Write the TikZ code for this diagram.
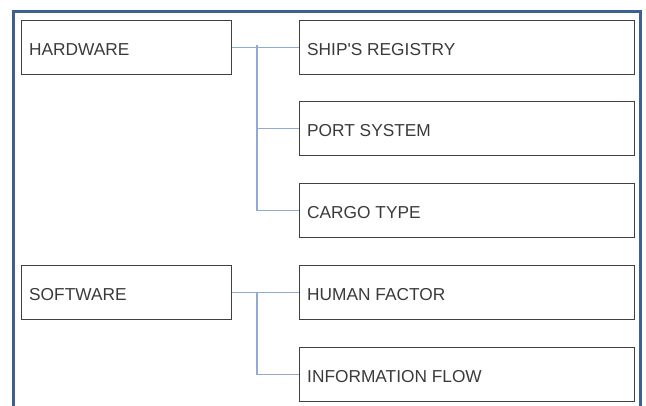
\documentclass[tikz,border=0pt]{standalone}
\usepackage{fontspec}
\newfontfamily\itemfont{Liberation Sans}
\definecolor{framec}{HTML}{3E5F92}
\definecolor{linec}{HTML}{8FAAD6}
\definecolor{textc}{HTML}{3A3A3A}
\begin{document}
\begin{tikzpicture}[x=1pt,y=-1pt,
  itembox/.style={draw=black!75,line width=1.3pt,minimum height=54pt,inner sep=0pt,
    anchor=north west},
  itemtext/.style={anchor=west,inner sep=0pt,text=textc,font=\itemfont\fontsize{17.3}{19}\selectfont},
  conn/.style={draw=linec,line width=1.2pt}]
\useasboundingbox (0,0) rectangle (646,405);
\begin{scope}
\clip (0,0) rectangle (646,405);
\draw[framec,line width=3pt] (13,11) rectangle (640,420);
\end{scope}
\foreach \nm/\x/\y/\w in {hw/21/20/210, sw/21/265/210,
  sr/299/20/335, ps/299/101/335, ct/299/183/335,
  hf/299/265/335, inf/299/347/335}
  \node[itembox,minimum width=\w pt] (\nm) at (\x,\y) {};
\foreach \nm/\t in {hw/HARDWARE, sw/SOFTWARE, sr/SHIP'S REGISTRY, ps/PORT SYSTEM,
  ct/CARGO TYPE, hf/HUMAN FACTOR, inf/INFORMATION FLOW}
  \node[itemtext] at ([xshift=8pt,yshift=-1.5pt]\nm.west) {\t};
\coordinate (j1) at (257,45);
\coordinate (j2) at (257,292);
\draw[conn] (hw.east) -- (sr.west);
\draw[conn] (j1) |- (ps.west);
\draw[conn] (j1) |- (ct.west);
\draw[conn] (sw.east) -- (hf.west);
\draw[conn] (j2) |- (inf.west);
\end{tikzpicture}
\end{document}
